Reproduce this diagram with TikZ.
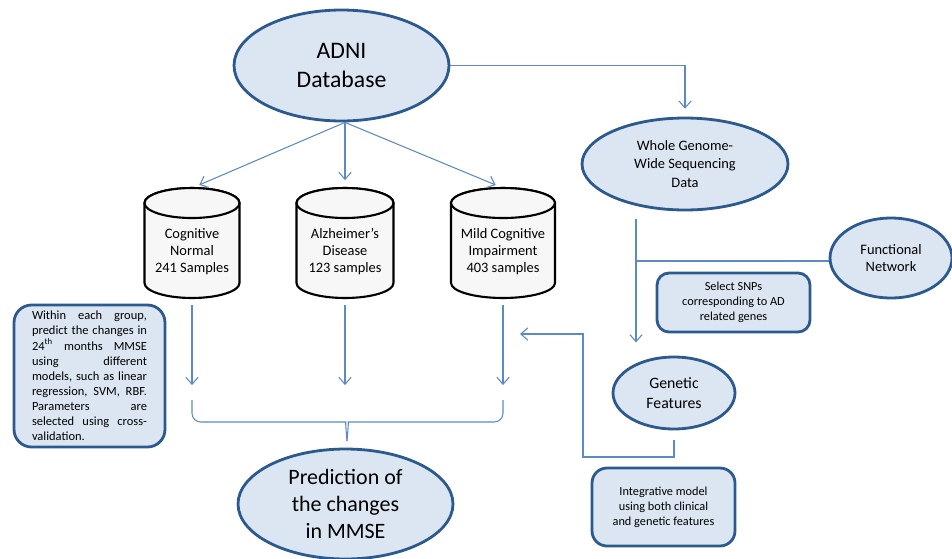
\documentclass[tikz,border=0pt]{standalone}
\usepackage{fontspec}
\setmainfont{Carlito}
\usetikzlibrary{shapes.geometric,arrows.meta,positioning,calc}
\pgfdeclarelayer{background}
\pgfsetlayers{background,main}
\definecolor{bubblefill}{HTML}{DCE6F2}
\definecolor{bubbleline}{HTML}{2C5A8F}
\definecolor{linkblue}{HTML}{5B8AC6}
\newcommand{\fsz}[2]{\fontsize{#1}{#2}\selectfont}
\newcommand{\dbpad}{\rule{0pt}{15.5pt}}
\newcommand{\drawdb}[2]{%
  \filldraw[dbline] ([yshift=-0.3cm]#1.north west) -- ([yshift=0.3cm]#1.south west)
    arc[start angle=180, end angle=360, x radius=#2, y radius=0.3cm]
    -- ([yshift=-0.3cm]#1.north east)
    arc[start angle=0, end angle=180, x radius=#2, y radius=0.3cm] -- cycle;
  \draw[dbline] ([yshift=-0.3cm]#1.north) ellipse [x radius=#2, y radius=0.3cm];}
\tikzset{>={Straight Barb[length=4pt,width=7pt]}}
\tikzstyle{link}   = [draw=linkblue,
                      line width=0.6pt]
\tikzstyle{arrow}  = [link, ->]
\tikzstyle{bubble} = [ellipse,
                      draw=bubbleline,
                      fill=bubblefill,
                      line width=1.6pt,
                      inner sep=0pt,
                      align=center]
\tikzstyle{note}   = [rectangle,
                      draw=bubbleline,
                      fill=bubblefill,
                      line width=1.6pt,
                      inner sep=0pt,
                      align=center]
\tikzstyle{db}     = [rectangle,
                      inner sep=0pt,
                      outer sep=0pt,
                      minimum height=2.2cm,
                      align=center,
                      font=\fsz{8.2}{9.8}]
\tikzstyle{dbline} = [draw=black,
                      fill=gray!6,
                      line width=1.2pt]

\begin{document}
\begin{tikzpicture}[x=0.02cm, y=-0.02cm]
  \useasboundingbox (0,0) rectangle (952,558);

  % Nodes
  \node[bubble, minimum width=4.3cm, minimum height=2.22cm,
        font=\fsz{13.5}{17}] (adni) at (341.5,65.5) {ADNI\\Database};
  \node[bubble, minimum width=4.12cm, minimum height=1.84cm,
        font=\fsz{8.2}{10.5}] (wgs) at (685,164)
        {Whole Genome-\\Wide Sequencing\\Data};
  \node[bubble, minimum width=2.44cm, minimum height=1.6cm,
        font=\fsz{8.2}{9.6}] (fn) at (891,258) {Functional\\Network};
  \node[bubble, minimum width=2.44cm, minimum height=1.44cm,
        font=\fsz{9}{11.5}] (gf) at (674,393) {Genetic\\Features};
  \node[bubble, minimum width=4.3cm, minimum height=2.2cm,
        font=\fsz{12.5}{15.3}] (pred) at (345.5,504)
        {Prediction of\\the changes\\in MMSE};

  \node[db, minimum width=1.9cm]  (cn)  at (192,243) {\dbpad Cognitive\\Normal\\241 Samples};
  \node[db, minimum width=1.94cm] (ad)  at (345,243) {\dbpad Alzheimer’s\\Disease\\123 samples};
  \node[db, minimum width=2.08cm] (mci) at (503,243) {\dbpad Mild Cognitive\\Impairment\\403 samples};

  \node[note, rounded corners=0.35cm, minimum width=3.02cm, minimum height=2.84cm,
        text width=2.3cm, align=left, font=\fsz{7.1}{8.6}] (within) at (89.5,376)
        {Within\hfill each\hfill group,\\
         predict\hfill the\hfill changes\hfill in\\
         24\textsuperscript{th}\hfill months\hfill MMSE\\
         using\hfill different\\
         models,\hfill such\hfill as\hfill linear\\
         regression,\hfill SVM,\hfill RBF.\\
         Parameters\hfill are\\
         selected\hfill using\hfill cross-\\
         validation.};
  \node[note, rounded corners=0.24cm, minimum width=3.06cm, minimum height=1.18cm,
        font=\fsz{7}{8.5}] (snps) at (733.5,302.5)
        {Select SNPs\\corresponding to AD\\related genes};
  \node[note, rounded corners=0.3cm, minimum width=2.86cm, minimum height=1.56cm,
        font=\fsz{7}{8.5}] (integ) at (663.5,507)
        {Integrative model\\using both clinical\\and genetic features};

  \coordinate (braceL) at (192,400);
  \coordinate (braceR) at (503,400);
  \coordinate (braceM) at (347,441);
  \coordinate (split)  at (636,261);
  \coordinate (turn)   at (583,457);
  \coordinate (back)   at (520,334);

  % Cylinders
  \begin{pgfonlayer}{background}
    \drawdb{cn}{0.95cm}
    \drawdb{ad}{0.97cm}
    \drawdb{mci}{1.04cm}
  \end{pgfonlayer}

  % Edges
  \draw[arrow, shorten >=4.5pt] (adni.south -| ad) -- (cn.north);
  \draw[arrow, shorten >=4.5pt] (adni.south -| ad) -- (ad.north);
  \draw[arrow, shorten >=4.5pt] (adni.south -| ad) -- (mci.north);
  \draw[arrow, shorten >=4.5pt] (adni.east) -| (wgs.north);

  \draw[arrow, shorten <=4pt, shorten >=8.5pt] (cn.south) -- (cn.south |- braceL);
  \draw[arrow, shorten <=4pt, shorten >=8.5pt] (ad.south) -- (ad.south |- braceL);
  \draw[arrow, shorten <=4pt, shorten >=8.5pt] (mci.south) -- (mci.south |- braceL);

  \draw[link, rounded corners=5pt] (braceL) |- ($(braceM)+(-10,-19)$) to[out=0,in=95] (braceM);
  \draw[link, rounded corners=5pt] (braceM) to[out=85,in=180] ($(braceM)+(10,-19)$) -| (braceR);

  \draw[arrow, shorten <=4.5pt, shorten >=7.5pt] (wgs.south -| split) -- (gf.north -| split);
  \draw[link] (split) -- (split -| fn.west);
  \draw[arrow, shorten <=5.5pt] (gf.south) |- (turn) |- (back);

\end{tikzpicture}
\end{document}
